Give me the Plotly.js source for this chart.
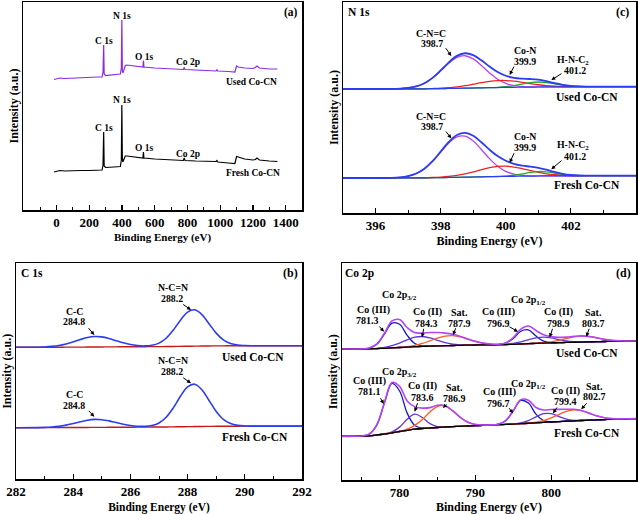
<!DOCTYPE html>
<html><head><meta charset="utf-8">
<script src="https://cdn.plot.ly/plotly-3.0.1.min.js"></script>
<style>html,body{margin:0;padding:0;background:#fff}#chart{width:638px;height:514px}</style>
</head><body><div id="chart"></div>
<script>
// ---------- (a) survey spectra ----------
const SURVEY_X = [-15,0,20,50,100,150,200,250,278,284,288,291,300,350,390,396,399,402,405,410,420,430,500,528,531,534,600,700,775,780,785,850,950,975,980,985,1050,1090,1100,1110,1150,1200,1215,1225,1240,1300,1350];
const SURVEY_USED = [130.5,131,132,131.5,132,132.5,132.5,133,133,138,165,136,134.5,135.5,136,142,190,140,137,139,144.5,145,143.5,143,149.5,143,142,141.5,140.5,142.5,140.5,140,139.5,139,140.5,139,138.5,138,144,143,142,141.5,142.5,144,142,141,141];
const SURVEY_FRESH = [38,38.5,39.5,39,39.5,39.5,39.5,40,40,45,78,44,42.5,43,43.5,50,105,52,48,50,54,54,52.5,52,58,52,51,50,49.5,52,49.5,49,48.5,48.5,49.5,48,47,46.5,53.5,53,51,50,50.5,52,50,49,48.5];

// ---------- (c) N 1s ----------
const N1S_X = [395,396,396.5,396.75,397,397.25,397.5,397.75,398,398.25,398.5,398.75,399,399.25,399.5,399.75,400,400.25,400.5,400.75,401,401.25,401.5,401.75,402,402.25,402.5,403,404];
const N1S_BG_USED = [124.0,124.0,124.0,124.05,124.1,124.15,124.2,124.3,124.4,124.55,124.7,124.85,125.0,125.15,125.3,125.45,125.6,125.7,125.8,125.9,126.0,126.05,126.1,126.15,126.2,126.25,126.3,126.3,126.3];
const N1S_USED_CNC = [0,0,0.08,0.30,0.92,2.44,5.53,10.69,17.77,25.32,30.94,32.40,29.09,22.37,14.79,8.35,4.05,1.69,0.60,0.18,0.05,0,0,0,0,0,0,0,0];
const N1S_USED_CON = [0,0,0,0,0.01,0.02,0.06,0.16,0.37,0.78,1.47,2.49,3.77,5.15,6.30,6.94,6.87,6.10,4.88,3.50,2.26,1.31,0.68,0.32,0.13,0.05,0.02,0,0];
const N1S_USED_HNC = [0,0,0,0,0,0,0,0,0,0,0,0,0,0.01,0.07,0.25,0.73,1.69,3.09,4.43,5.00,4.43,3.09,1.69,0.73,0.25,0.07,0,0];
const N1S_USED_ENV = [0,0,0.08,0.30,0.93,2.46,5.59,10.85,18.14,26.10,32.41,34.89,32.86,27.53,21.16,15.54,11.65,9.48,8.57,8.11,7.31,5.74,3.77,2.01,0.86,0.30,0.09,0,0];
const N1S_BG_FRESH = [35.0,35.0,35.0,35.05,35.1,35.15,35.2,35.3,35.4,35.55,35.7,35.85,36.0,36.15,36.3,36.45,36.6,36.7,36.8,36.9,37.0,37.05,37.1,37.15,37.2,37.25,37.3,37.3,37.3];
const N1S_FRESH_CNC = [0,0,0.20,0.64,1.79,4.32,9.02,16.29,25.51,34.50,40.43,41.02,36.03,27.39,18.03,10.27,5.07,2.16,0.80,0.26,0.07,0,0,0,0,0,0,0,0];
const N1S_FRESH_CON = [0,0,0,0,0.01,0.03,0.07,0.20,0.47,1.00,1.93,3.32,5.15,7.18,8.98,10.10,10.21,9.28,7.57,5.55,3.66,2.16,1.15,0.55,0.24,0.09,0.03,0,0];
const N1S_FRESH_HNC = [0,0,0,0,0,0,0,0,0,0,0,0,0,0,0.02,0.09,0.36,1.04,2.25,3.66,4.47,4.11,2.83,1.47,0.57,0.17,0.04,0,0];
const N1S_FRESH_ENV = [0,0,0.20,0.64,1.80,4.35,9.09,16.49,25.98,35.50,42.36,44.34,41.18,34.57,27.03,20.46,15.64,12.48,10.62,9.47,8.20,6.27,3.98,2.02,0.81,0.26,0.07,0,0];

// ---------- (b) C 1s ----------
const C1S_X = [282,283,283.25,283.5,283.75,284,284.25,284.5,284.75,285,285.25,285.5,285.75,286,286.25,286.5,286.75,287,287.25,287.5,287.75,288,288.25,288.5,288.75,289,289.25,289.5,289.75,290,290.25,290.5,291,292];
const C1S_BG_USED = [132.0,132.05,132.1,132.1,132.15,132.2,132.2,132.25,132.3,132.35,132.4,132.45,132.5,132.5,132.55,132.6,132.65,132.7,132.75,132.85,132.95,133.05,133.15,133.25,133.35,133.4,133.45,133.5,133.5,133.55,133.55,133.55,133.6,133.6];
const C1S_USED_ENV = [0,0.31,0.78,1.68,3.18,5.25,7.57,9.52,10.47,10.06,8.43,6.17,3.95,2.22,1.15,0.78,1.33,3.50,8.32,16.34,26.19,34.18,36.35,31.49,22.22,12.78,5.98,2.28,0.71,0.18,0.04,0.01,0,0];
const C1S_BG_FRESH = [51.6,51.65,51.7,51.7,51.75,51.8,51.8,51.85,51.9,51.95,52.0,52.05,52.1,52.1,52.15,52.2,52.25,52.3,52.35,52.45,52.55,52.65,52.75,52.85,52.95,53.0,53.05,53.1,53.1,53.15,53.15,53.15,53.2,53.2];
const C1S_FRESH_ENV = [0,0.24,0.59,1.28,2.42,4.0,5.77,7.26,7.98,7.66,6.42,4.70,3.01,1.70,0.91,0.72,1.48,4.04,9.67,19.02,30.49,39.80,42.33,36.66,25.88,14.88,6.96,2.66,0.82,0.21,0.04,0.01,0,0];

// ---------- (d) Co 2p ----------
const CO_X = [772,773,774,775,776,777,778,779,780,781,782,783,784,785,786,787,788,789,790,791,792,793,794,795,796,797,798,799,800,801,802,803,804,805,806,807,808,809,810,811,812];
const CO_BG_USED = [131.0,131.0,131.05,131.1,131.2,131.4,131.7,132.1,132.5,132.9,133.3,133.6,133.9,134.1,134.3,134.5,134.7,134.85,135.0,135.1,135.2,135.3,135.45,135.7,136.0,136.35,136.65,136.9,137.15,137.35,137.55,137.75,137.95,138.15,138.35,138.5,138.65,138.8,138.9,139.0,139.1];
const CO_USED_III_32 = [0,0,0,0.07,0.74,4.41,14.21,24.75,23.27,11.81, 3.24,0.48,0.04,0,0,0,0,0,0,0, 0,0,0,0,0,0,0,0,0,0, 0,0,0,0,0,0,0,0,0,0, 0];
const CO_USED_II_32 = [0,0,0,0.01,0.07,0.27,0.86,2.19,4.46,7.26, 9.47,9.90,8.29,5.56,2.99,1.29,0.44,0.12,0.03,0, 0,0,0,0,0,0,0,0,0,0, 0,0,0,0,0,0,0,0,0,0, 0];
const CO_USED_SAT_32 = [0,0,0,0,0,0,0,0.05,0.17,0.54, 1.38,2.95,5.25,7.79,9.62,9.89,8.46,6.03,3.58,1.77, 0.73,0.25,0.07,0.02,0,0,0,0,0,0, 0,0,0,0,0,0,0,0,0,0, 0];
const CO_USED_III_12 = [0,0,0,0,0,0,0,0,0,0, 0,0,0,0,0,0,0,0,0,0, 0.01,0.15,1.33,5.86,12.77,13.70,7.25,1.89,0.24,0.02, 0,0,0,0,0,0,0,0,0,0, 0];
const CO_USED_II_12 = [0,0,0,0,0,0,0,0,0,0, 0,0,0,0,0,0,0,0,0,0, 0.01,0.06,0.26,0.83,2.05,3.85,5.50,5.97,4.93,3.09, 1.48,0.54,0.15,0.03,0,0,0,0,0,0, 0];
const CO_USED_SAT_12 = [0,0,0,0,0,0,0,0,0,0, 0,0,0,0,0,0,0,0,0,0, 0,0,0,0,0,0.03,0.11,0.38,1.02,2.21, 3.85,5.37,6.00,5.37,3.85,2.21,1.02,0.38,0.11,0.03, 0];
const CO_USED_ENV = [0,0,0,0.08,0.81,4.68,15.07,26.99,27.90,19.61, 14.09,13.33,13.58,13.35,12.61,11.18,8.90,6.15,3.61,1.77, 0.75,0.46,1.66,6.71,14.82,17.58,12.86,8.24,6.19,5.32, 5.33,5.91,6.15,5.40,3.85,2.21,1.02,0.38,0.11,0.03, 0];
const CO_BG_FRESH = [43.5,43.6,43.7,43.9,44.2,45.0,46.0,47.2,48.5,49.7,50.8,51.5,52.0,52.5,53.0,53.4,53.7,54.0,54.3,54.65,55.0,55.3,55.6,55.95,56.3,56.75,57.2,57.6,58.0,58.4,58.8,59.15,59.5,59.8,60.1,60.4,60.7,60.95,61.2,61.35,61.5];
const CO_FRESH_III_32 = [0,0,0.01,0.15,1.71,10.14,31.11,49.35,40.49,17.18, 3.77,0.43,0.03,0,0,0,0,0,0,0, 0,0,0,0,0,0,0,0,0,0, 0,0,0,0,0,0,0,0,0,0, 0];
const CO_FRESH_II_32 = [0,0,0,0,0,0.01,0.11,0.94,4.38,11.00, 15.00,11.00,4.38,0.94,0.11,0.01,0,0,0,0, 0,0,0,0,0,0,0,0,0,0, 0,0,0,0,0,0,0,0,0,0, 0];
const CO_FRESH_SAT_32 = [0,0,0,0,0,0,0.01,0.05,0.29,1.21, 3.81,8.99,15.94,21.23,21.23,15.94,8.99,3.81,1.21,0.29, 0.05,0.01,0,0,0,0,0,0,0,0, 0,0,0,0,0,0,0,0,0,0, 0];
const CO_FRESH_III_12 = [0,0,0,0,0,0,0,0,0,0, 0,0,0,0,0,0,0,0,0,0, 0.03,0.51,3.70,13.20,23.25,20.18,8.64,1.82,0.19,0.01, 0,0,0,0,0,0,0,0,0,0, 0];
const CO_FRESH_II_12 = [0,0,0,0,0,0,0,0,0,0, 0,0,0,0,0,0,0,0,0,0, 0,0,0.02,0.14,0.76,2.62,5.92,8.70,8.33,5.20, 2.12,0.56,0.10,0.01,0,0,0,0,0,0, 0];
const CO_FRESH_SAT_12 = [0,0,0,0,0,0,0,0,0,0, 0,0,0,0,0,0,0,0,0,0, 0,0,0,0.01,0.05,0.20,0.69,1.87,4.05,7.06, 9.85,11.00,9.85,7.06,4.05,1.87,0.69,0.20,0.05,0.01, 0];
const CO_FRESH_ENV = [0,0,0.01,0.15,1.71,10.15,31.23,50.34,45.16,29.39, 22.58,20.42,20.35,22.17,21.34,15.95,8.99,3.81,1.21,0.29, 0.08,0.52,3.72,13.35,24.06,23.00,15.25,12.39,12.57,12.27, 11.97,11.56,9.95,7.07,4.05,1.87,0.69,0.20,0.05,0.01, 0];

// ---------- ticks ----------
const TICKS_A = [0,200,400,600,800,1000,1200,1400];
const MINOR_A = [-100,100,300,500,700,900,1100,1300];
const TICKS_C = [396,398,400,402];
const MINOR_C = [397,399,401,403];
const TICKS_B = [282,284,286,288,290,292];
const MINOR_B = [283,285,287,289,291];
const TICKS_D = [780,790,800];
const MINOR_D = [775,785,795,805];

const FONT = 'Liberation Serif';
const W = 638, H = 514;
const px = v => v / W, py = v => 1 - v / H;

function stack(arr, bg) { return arr.map((v, i) => v + bg[i]); }
function tr(x, y, color, width, xa, ya, shape) {
  return {x: x, y: y, type: 'scatter', mode: 'lines', xaxis: xa, yaxis: ya,
    line: {color: color, width: width, shape: shape || 'spline', smoothing: 1},
    hoverinfo: 'skip', showlegend: false};
}

const traces = [];
// (a)
traces.push(tr(SURVEY_X, SURVEY_USED, '#8a2be2', 1.2, 'x', 'y', 'linear'));
traces.push(tr(SURVEY_X, SURVEY_FRESH, '#000000', 1.2, 'x', 'y', 'linear'));
// (c)
const NB = '#2b3cf2', NP = '#b845ee', NR = '#ee2222', NG = '#22aa22';
[[N1S_BG_USED, N1S_USED_CNC, N1S_USED_CON, N1S_USED_HNC, N1S_USED_ENV],
 [N1S_BG_FRESH, N1S_FRESH_CNC, N1S_FRESH_CON, N1S_FRESH_HNC, N1S_FRESH_ENV]].forEach(s => {
  traces.push(tr(N1S_X, stack(s[1], s[0]), NP, 1.3, 'x2', 'y2'));
  traces.push(tr(N1S_X, stack(s[2], s[0]), NR, 1.3, 'x2', 'y2'));
  traces.push(tr(N1S_X, stack(s[3], s[0]), NG, 1.3, 'x2', 'y2'));
  traces.push(tr(N1S_X, s[0], NB, 1.2, 'x2', 'y2'));
  traces.push(tr(N1S_X, stack(s[4], s[0]), NB, 1.8, 'x2', 'y2'));
});
// (b)
[[C1S_BG_USED, C1S_USED_ENV], [C1S_BG_FRESH, C1S_FRESH_ENV]].forEach(s => {
  traces.push(tr(C1S_X, s[0], '#c41a1a', 1.4, 'x3', 'y3'));
  traces.push(tr(C1S_X, stack(s[1], s[0]), NB, 1.6, 'x3', 'y3'));
});
// (d)
const C3 = '#1515cc', C2 = '#5b35dd', CS = '#ff5a1e', CE = '#b444f4';
[[CO_BG_USED, CO_USED_III_32, CO_USED_II_32, CO_USED_SAT_32, CO_USED_III_12, CO_USED_II_12, CO_USED_SAT_12, CO_USED_ENV],
 [CO_BG_FRESH, CO_FRESH_III_32, CO_FRESH_II_32, CO_FRESH_SAT_32, CO_FRESH_III_12, CO_FRESH_II_12, CO_FRESH_SAT_12, CO_FRESH_ENV]].forEach(s => {
  const cols = [C3, C2, CS, C3, C2, CS];
  for (let k = 1; k <= 6; k++) traces.push(tr(CO_X, stack(s[k], s[0]), cols[k - 1], 1.3, 'x4', 'y4'));
  traces.push(tr(CO_X, s[0], '#000000', 1.3, 'x4', 'y4'));
  traces.push(tr(CO_X, stack(s[7], s[0]), CE, 1.6, 'x4', 'y4'));
});

function xAxis(dom, rng, anchor, tv, mv, tsize) {
  return {domain: dom, range: rng, anchor: anchor, showline: true, linecolor: '#000', linewidth: 1.5, mirror: true,
    ticks: 'inside', ticklen: 5, tickwidth: 1.2, tickcolor: '#000', tickmode: 'array', tickvals: tv, ticktext: tv.map(String),
    minor: {tickmode: 'array', tickvals: mv, ticks: 'inside', ticklen: 3, tickwidth: 1, tickcolor: '#000', showgrid: false},
    showgrid: false, zeroline: false, fixedrange: true, automargin: false,
    tickfont: {family: FONT, size: 13, weight: 'bold', color: '#000'},
    title: {text: 'Binding Energy (eV)', font: {family: FONT, size: tsize, weight: 'bold', color: '#000'}, standoff: 4}};
}
function yAxis(dom, rng, anchor) {
  return {domain: dom, range: rng, anchor: anchor, showline: true, linecolor: '#000', linewidth: 1.5, mirror: true,
    ticks: '', showticklabels: false, showgrid: false, zeroline: false, fixedrange: true, automargin: false,
    title: {text: 'Intensity (a.u.)', font: {family: FONT, size: 12, weight: 'bold', color: '#000'}, standoff: 0}};
}

const labels = [
  ['(a)',291,12.3,11.5],['C 1s',104.3,40.7,9.5],['N 1s',121.7,15.7,9.5],['O 1s',144.7,57.3,9.5],['Co 2p',187.7,62.3,9.5],['Used Co-CN',251,81.7,9.5],
  ['C 1s',104.3,127.7,9.5],['N 1s',121.7,100,9.5],['O 1s',144.7,147.7,9.5],['Co 2p',187.7,154,9.5],['Fresh Co-CN',252.7,173.3,9.5],
  ['N 1s',358.7,11.7,11.5],['(c)',622.3,11.7,12],
  ['C-N=C',430.7,33,9.8],['398.7',432,43.5,9.8],['Co-N',524.7,51,9.8],['399.9',524.7,61.7,9.8],['H-N-C<sub>2</sub>',573,60,9.8],['401.2',574.7,70.5,9.8],['Used Co-CN',587.3,97.3,11.5],
  ['C-N=C',430.7,116.3,9.8],['398.7',432,126.8,9.8],['Co-N',524.7,137,9.8],['399.9',524.7,147.5,9.8],['H-N-C<sub>2</sub>',573,145.3,9.8],['401.2',574.7,156,9.8],['Fresh Co-CN',587.3,185,11.5],
  ['C 1s',31.7,273.3,11.5],['(b)',290.7,273.3,12],
  ['N-C=N',173.3,287.3,9.8],['288.2',172.3,298.3,9.8],['C-C',74,311.3,9.8],['284.8',74,321.8,9.8],['Used Co-CN',253.3,357.3,11.5],
  ['N-C=N',173.3,360.5,9.8],['288.2',172.3,371.5,9.8],['C-C',74,394.5,9.8],['284.8',74,405,9.8],['Fresh Co-CN',255,436.7,11.5],
  ['Co 2p',359.3,273.3,11.5],['(d)',623.7,273.3,12],
  ['Co 2p<sub>3/2</sub>',399.7,295,10],['Co (III)',373,310.2,10],['781.3',367.3,320.8,10],['Co (II)',427.3,312.3,10],['784.3',426.3,323,10],
  ['Sat.',459.7,312.3,10],['787.9',459.7,323,10],['Co (III)',498,312.3,10],['796.9',498,323,10],['Co 2p<sub>1/2</sub>',528,300.7,10],
  ['Co (II)',558,312.3,10],['798.9',558,323,10],['Sat.',593,312.3,10],['803.7',593,323,10],['Used Co-CN',587.3,353.3,11.5],
  ['Co 2p<sub>3/2</sub>',399.7,372.8,10],['Co (III)',369.7,381.2,10],['781.1',369.7,391.8,10],['Co (II)',422,386.3,10],['783.6',422,397,10],
  ['Sat.',454.7,387.8,10],['786.9',454.7,398.5,10],['Co (III)',499.7,392.3,10],['796.7',498,403,10],['Co 2p<sub>1/2</sub>',528,384.5,10],
  ['Co (II)',565.3,391,10],['799.4',565.3,401.7,10],['Sat.',594.7,386,10],['802.7',594.7,396.7,10],['Fresh Co-CN',587.3,432.7,11.5]
];
const arrows = [
  [444.7,46.7,451.3,56],[514.7,65,509.7,75],[563,72.7,551.3,80],
  [444.7,130,451.3,138.3],[514.7,151.7,509.7,162.7],[563,159.3,551.3,169.3],
  [181.7,303.3,191,310],[87.3,326.7,94.3,335],[181.7,376.7,191,383.3],[87.3,409.3,94.3,416.7],
  [378,325,384,331.7],[424,327.3,422,337.3],[456.3,326.7,453,335],[508,326,518,331.7],[553,327.3,549.7,337.3],[589.7,327.3,586.3,336.7],
  [379.7,396.7,383.7,404],[418,401.7,414.7,411.7],[448,403,443,408],[508,406.7,513,413.3],[558,406,553,413.3],[588,401.7,581.3,409.3]
];
const annotations = labels.map(l => ({xref: 'paper', yref: 'paper', x: px(l[1]), y: py(l[2]), text: l[0], showarrow: false,
  xanchor: 'center', yanchor: 'middle', borderpad: 0, font: {family: FONT, size: l[3], weight: 'bold', color: '#000'}}))
.concat(arrows.map(a => ({xref: 'paper', yref: 'paper', x: px(a[2]), y: py(a[3]), ax: a[0] - a[2], ay: a[1] - a[3],
  text: '', showarrow: true, arrowhead: 2, arrowsize: 0.8, arrowwidth: 1, arrowcolor: '#000', standoff: 0})));

const layout = {
  width: W, height: H, margin: {l: 0, r: 0, t: 0, b: 0}, paper_bgcolor: '#fff', plot_bgcolor: '#fff', showlegend: false,
  xaxis: xAxis([px(23), px(302)], [-205, 1500], 'y', TICKS_A, MINOR_A, 11),
  yaxis: yAxis([py(210), py(2)], [0, 208], 'x'),
  xaxis2: xAxis([px(343), px(636)], [395, 404], 'y2', TICKS_C, MINOR_C, 12),
  yaxis2: yAxis([py(213), py(2)], [0, 211], 'x2'),
  xaxis3: xAxis([px(16), px(302)], [282, 292], 'y3', TICKS_B, MINOR_B, 11.5),
  yaxis3: yAxis([py(479.3), py(263.3)], [0, 216], 'x3'),
  xaxis4: xAxis([px(342), px(636)], [772.4, 811.2], 'y4', TICKS_D, MINOR_D, 12),
  yaxis4: yAxis([py(480), py(263.3)], [0, 216.7], 'x4'),
  annotations: annotations
};
Plotly.newPlot('chart', traces, layout, {staticPlot: true, displayModeBar: false});
</script></body></html>
